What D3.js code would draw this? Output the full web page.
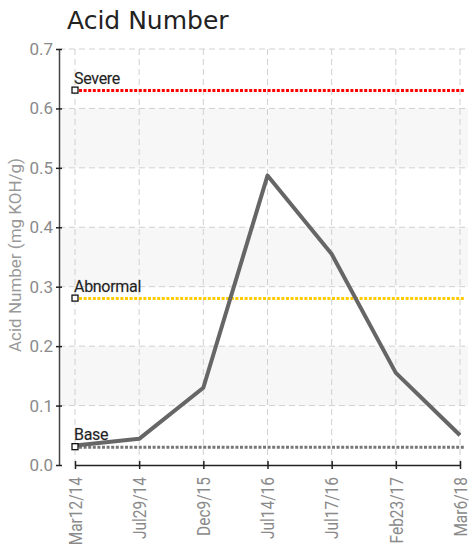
<!DOCTYPE html>
<html>
<head>
<meta charset="utf-8">
<script src="https://cdn.jsdelivr.net/npm/d3@7"></script>
<style>
body { margin: 0; background: #fff; }
.tick text { font-family: "Roboto", sans-serif; }
</style>
</head>
<body>
<svg id="chart" width="474" height="545"></svg>
<script>
// sample dates and acid number readings
var dates = ["Mar12/14", "Jul29/14", "Dec9/15", "Jul14/16", "Jul17/16", "Feb23/17", "Mar6/18"];
var acidValues = [0.033, 0.044, 0.13, 0.487, 0.355, 0.155, 0.05];

// limit lines
var limitNames = ["Severe", "Abnormal", "Base"];
var limitValues = [0.63, 0.28, 0.03];
var limitColors = ["#ff0000", "#ffcc00", "#777777"];

var yTicks = [0, 0.1, 0.2, 0.3, 0.4, 0.5, 0.6, 0.7];

var margin = {top: 49, right: 6, bottom: 80, left: 59},
	width = 474 - margin.left - margin.right,
	height = 545 - margin.top - margin.bottom;

var svg = d3.select("#chart");
var g = svg.append("g")
	.attr("transform", "translate(" + margin.left + "," + margin.top + ")");

var x = d3.scalePoint().domain(dates).range([16, 401]);
var y = d3.scaleLinear().domain([0, 0.7]).range([height, 0]);

// alternating bands
g.selectAll(".band")
	.data(yTicks.slice(0, -1).filter(function(d, i){ return i % 2 == 1; }))
	.enter().append("rect")
	.attr("x", 0)
	.attr("width", width)
	.attr("y", function(d){ return y(d + 0.1); })
	.attr("height", function(d){ return y(d) - y(d + 0.1); })
	.style("fill", "#f7f7f7");

// grid
g.selectAll(".hgrid")
	.data(yTicks.slice(1))
	.enter().append("line")
	.attr("x1", 0).attr("x2", width)
	.attr("y1", function(d){ return y(d); })
	.attr("y2", function(d){ return y(d); })
	.style("stroke", "#d0d0d0")
	.style("stroke-dasharray", "6,4");

g.selectAll(".vgrid")
	.data(dates)
	.enter().append("line")
	.attr("x1", function(d){ return x(d); })
	.attr("x2", function(d){ return x(d); })
	.attr("y1", 0).attr("y2", height)
	.style("stroke", "#d0d0d0")
	.style("stroke-dasharray", "6,4");

// limit lines
limitValues.forEach(function(v, i){
	g.append("line")
		.attr("x1", x(dates[0]) + 4)
		.attr("x2", x(dates[dates.length - 1]) + 4)
		.attr("y1", y(v)).attr("y2", y(v))
		.style("stroke", limitColors[i])
		.style("stroke-width", 3)
		.style("stroke-dasharray", "3,1.6");
});

// main line
var line = d3.line()
	.x(function(d, i){ return x(dates[i]); })
	.y(function(d){ return y(d); });

g.append("path")
	.datum(acidValues)
	.attr("d", line)
	.style("fill", "none")
	.style("stroke", "#666666")
	.style("stroke-width", 4)
	.style("stroke-linejoin", "round");

// limit markers and labels
limitValues.forEach(function(v, i){
	g.append("rect")
		.attr("x", x(dates[0]) - 3)
		.attr("y", y(v) - 3.5)
		.attr("width", 6)
		.attr("height", 6)
		.style("fill", "white")
		.style("stroke", "#111")
		.style("stroke-width", 1.3);
	g.append("text")
		.attr("x", x(dates[0]) - 1)
		.attr("y", y(v) - 7)
		.text(limitNames[i])
		.style("font-family", "Roboto, sans-serif")
		.style("font-size", "16px")
		.style("letter-spacing", "-0.3px")
		.style("fill", "#222")
		.style("paint-order", "stroke")
		.style("stroke", "rgba(0,0,0,0.15)")
		.style("stroke-width", 1);
});

// axes
var yAxis = g.append("g")
	.call(d3.axisLeft(y).tickValues(yTicks).tickFormat(d3.format(".1f")).tickSize(6).tickSizeOuter(0));
yAxis.select(".domain").style("stroke", "#444").style("stroke-width", 1.5);
yAxis.selectAll(".tick line").style("stroke", "#222").attr("x1", 3).attr("x2", -3).style("stroke-width", 1.5);
yAxis.selectAll(".tick text").attr("x", -6).style("font-size", "17px").style("fill", "#8a8a8a");

var xAxis = g.append("g")
	.attr("transform", "translate(0," + height + ")")
	.call(d3.axisBottom(x).tickSize(5).tickSizeOuter(0));
xAxis.select(".domain").style("stroke", "#222").style("stroke-width", 1.5);
xAxis.selectAll(".tick line").style("stroke", "#222").attr("y1", -4).attr("y2", 4).style("stroke-width", 1.5);
xAxis.selectAll(".tick text")
	.attr("transform", "rotate(-90) scale(0.86,1)")
	.attr("x", -14)
	.attr("y", 0)
	.attr("dy", "0.35em")
	.style("text-anchor", "end")
	.style("font-size", "18px")
	.style("fill", "#8a8a8a");

// title
svg.append("text")
	.attr("x", 67)
	.attr("y", 29)
	.text("Acid Number")
	.style("font-family", "'DejaVu Sans', sans-serif")
	.style("font-size", "25px")
	.style("fill", "#222");

// y label
svg.append("text")
	.attr("transform", "translate(21,255) rotate(-90)")
	.style("text-anchor", "middle")
	.text("Acid Number (mg KOH/g)")
	.style("font-family", "Roboto, sans-serif")
	.style("font-size", "17px")
	.style("fill", "#999");
</script>
</body>
</html>
